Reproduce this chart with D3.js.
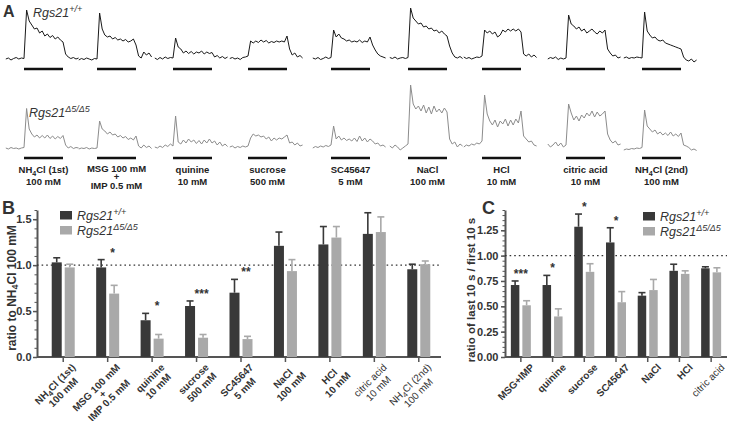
<!DOCTYPE html>
<html>
<head>
<meta charset="utf-8">
<script src="https://cdn.jsdelivr.net/npm/d3@7"></script>
<style>
body { margin: 0; background: #fff; }
svg { font-family: "Liberation Sans", Arial, Helvetica, sans-serif; }
</style>
</head>
<body>
<svg id="fig" width="729" height="421"></svg>
<script>
// ---- data ----
const stimuli = ["NH4Cl (1st)\n100 mM", "MSG 100 mM\n+\nIMP 0.5 mM", "quinine\n10 mM", "sucrose\n500 mM",
  "SC45647\n5 mM", "NaCl\n100 mM", "HCl\n10 mM", "citric acid\n10 mM", "NH4Cl (2nd)\n100 mM"];

// time (s) relative to stimulus onset, stimulus lasts 30 s
const traceTime = [-14,-12,-10,-8,-6,-4,-2,0,2,4,6,8,10,12,14,16,18,20,22,24,26,28,30,32,34,36,38,40,42];

// normalized calcium traces
const wtTraces = [
  [0.02,0.04,0.00,0.03,0.05,0.02,0.04, 0.03,1.00,0.78,0.70,0.62,0.64,0.54,0.58,0.48,0.52,0.45,0.49,0.42,0.46,0.40,0.36, 0.12,0.06,0.03,0.05,0.02,0.04],
  [0.00,0.03,0.01,0.04,0.02,0.00,0.03, 0.02,0.94,0.62,0.50,0.46,0.48,0.42,0.45,0.40,0.42,0.38,0.41,0.36,0.38,0.42,0.30, 0.08,0.04,0.16,0.10,0.14,0.06],
  [0.04,0.01,0.05,0.02,0.06,0.03,0.05, 0.04,0.44,0.26,0.22,0.14,0.18,0.13,0.17,0.12,0.16,0.14,0.18,0.12,0.16,0.13,0.15, 0.06,0.09,0.04,0.07,0.03,0.06],
  [0.03,0.05,0.02,0.04,0.01,0.05,0.06, 0.08,0.38,0.34,0.38,0.35,0.40,0.36,0.39,0.34,0.37,0.35,0.38,0.36,0.38,0.36,0.48, 0.22,0.10,0.14,0.06,0.09,0.04],
  [0.04,0.02,0.05,0.01,0.03,0.06,0.03, 0.05,0.60,0.46,0.52,0.44,0.42,0.38,0.40,0.36,0.38,0.36,0.40,0.35,0.38,0.36,0.46, 0.30,0.20,0.12,0.08,0.06,0.04],
  [0.05,0.03,0.06,0.02,0.04,0.05,0.03, 0.05,1.04,0.84,0.78,0.72,0.74,0.66,0.68,0.62,0.64,0.58,0.60,0.54,0.58,0.52,0.48, 0.28,0.14,0.06,0.04,0.07,0.03],
  [0.06,0.03,0.05,0.02,0.04,0.06,0.05, 0.08,0.60,0.54,0.58,0.52,0.56,0.46,0.50,0.60,0.56,0.62,0.58,0.62,0.58,0.62,0.56, 0.12,0.08,0.12,0.06,0.10,0.05],
  [0.02,0.05,0.03,0.06,0.01,0.04,0.02, 0.04,0.90,0.72,0.68,0.62,0.66,0.58,0.62,0.54,0.58,0.62,0.56,0.52,0.58,0.54,0.60, 0.22,0.14,0.08,0.10,0.04,0.06],
  [0.04,0.06,0.03,0.05,0.04,0.06,0.05, 0.04,0.96,0.58,0.50,0.44,0.46,0.40,0.38,0.40,0.34,0.32,0.30,0.28,0.26,0.24,0.22, 0.06,0.00,-0.02,0.02,-0.04,0.00]
];
const koTraces = [
  [0.02,0.00,0.03,0.01,0.02,0.00,0.02, 0.03,0.81,0.40,0.30,0.24,0.28,0.22,0.27,0.22,0.28,0.21,0.26,0.20,0.25,0.21,0.27, 0.08,0.02,0.05,0.01,0.03,0.02],
  [0.00,0.02,0.01,0.03,0.00,0.02,0.01, 0.02,0.56,0.40,0.36,0.30,0.34,0.28,0.30,0.24,0.27,0.22,0.25,0.19,0.22,0.18,0.26, 0.06,0.02,0.08,0.03,0.06,0.01],
  [0.04,0.02,0.06,0.03,0.08,0.05,0.10, 0.06,0.66,0.14,0.10,0.18,0.12,0.20,0.14,0.18,0.11,0.17,0.10,0.18,0.12,0.20,0.12, 0.16,0.08,0.14,0.06,0.10,0.05],
  [0.04,0.06,0.02,0.05,0.03,0.06,0.04, 0.06,0.22,0.30,0.26,0.28,0.24,0.26,0.20,0.24,0.16,0.22,0.18,0.22,0.20,0.24,0.28, 0.12,0.14,0.08,0.12,0.06,0.08],
  [0.02,0.05,0.03,0.06,0.04,0.07,0.05, 0.08,0.46,0.20,0.26,0.18,0.22,0.17,0.20,0.16,0.22,0.15,0.26,0.16,0.22,0.14,0.20, 0.16,0.10,0.12,0.06,0.08,0.04],
  [0.06,0.02,0.08,0.04,-0.02,0.02,0.06, 0.10,1.28,0.90,0.80,0.86,0.76,0.88,0.72,0.84,0.70,0.86,0.74,0.80,0.72,0.82,0.74, 0.20,0.10,0.14,0.04,0.10,0.06],
  [0.04,0.08,0.06,0.10,0.08,0.12,0.10, 0.16,1.08,0.70,0.56,0.48,0.58,0.44,0.56,0.50,0.60,0.46,0.58,0.48,0.60,0.52,0.76, 0.26,0.20,0.14,0.16,0.08,0.06],
  [0.10,0.04,0.08,0.14,0.06,0.12,0.04, 0.08,0.90,0.72,0.58,0.66,0.56,0.68,0.62,0.72,0.66,0.76,0.64,0.74,0.66,0.70,0.76, 0.30,0.18,0.12,0.16,0.08,0.10],
  [-0.02,0.00,-0.01,0.01,0.00,0.02,0.01, 0.03,0.78,0.46,0.40,0.34,0.38,0.30,0.34,0.28,0.32,0.27,0.34,0.26,0.30,0.25,0.32, 0.08,0.06,0.03,-0.02,0.00,-0.03]
];

// panel B: ratio to NH4Cl 100 mM (mean, SEM)
const bWt    = [1.03, 0.975, 0.40, 0.555, 0.70, 1.21, 1.225, 1.34, 0.955];
const bWtSem = [0.05, 0.085, 0.075, 0.055, 0.145, 0.15, 0.195, 0.23, 0.055];
const bKo    = [0.975, 0.69, 0.20, 0.21, 0.195, 0.935, 1.30, 1.36, 1.01];
const bKoSem = [0.035, 0.09, 0.045, 0.035, 0.03, 0.125, 0.12, 0.165, 0.035];
const bStars = ["", "*", "*", "***", "**", "", "", "", ""];
const bTicks = [0, 0.5, 1.0, 1.5];

// panel C: ratio of last 10 s / first 10 s
const cCategories = ["MSG+IMP", "quinine", "sucrose", "SC45647", "NaCl", "HCl", "citric acid"];
const cWt    = [0.71, 0.71, 1.285, 1.13, 0.605, 0.85, 0.875];
const cWtSem = [0.04, 0.095, 0.125, 0.145, 0.03, 0.065, 0.015];
const cKo    = [0.51, 0.40, 0.84, 0.54, 0.66, 0.82, 0.835];
const cKoSem = [0.045, 0.075, 0.08, 0.105, 0.105, 0.03, 0.045];
const cStars = ["***", "*", "*", "*", "", "", ""];
const cTicks = [0, 0.25, 0.5, 0.75, 1.0, 1.25];

// ---- drawing ----
const svg = d3.select("#fig");
const ink = "#333";
const axisColor = "#555";
const wtColor = "#393939", koColor = "#a9a9a9";

// text with NH4 subscript
function rich(text, str) {
  const parts = str.split("NH4");
  if (parts.length === 1) return text.text(str);
  if (parts[0]) text.append("tspan").text(parts[0]);
  text.append("tspan").text("NH");
  text.append("tspan").attr("dy", 2.5).attr("font-size", "0.75em").text("4");
  text.append("tspan").attr("dy", -2.5).text(parts[1]);
  return text;
}
function genotype(parent, x, y, sup) {
  const t = parent.append("text").attr("x", x).attr("y", y).attr("font-style", "italic")
    .attr("font-size", 12.5).attr("fill", ink);
  t.append("tspan").text("Rgs21");
  t.append("tspan").attr("dy", -5).attr("font-size", 9).text(sup);
  return t;
}
function panelLetter(x, y, s, size) {
  svg.append("text").attr("x", x).attr("y", y).attr("font-weight", "bold")
    .attr("font-size", size).attr("fill", ink).text(s);
}

// ---- panel A ----
const gA = svg.append("g");
const traceX0 = [24, 97, 173, 248, 331, 408, 482, 566, 642];
const rows = [
  {traces: wtTraces, base: 60, bar: 69, stroke: "#1a1a1a"},
  {traces: koTraces, base: 149, bar: 158, stroke: "#8c8c8c"}
];
rows.forEach(r => {
  const y = d3.scaleLinear().domain([0, 1]).range([r.base, r.base - 50]);
  r.traces.forEach((vals, i) => {
    const x = d3.scaleLinear().domain([0, 30]).range([traceX0[i], traceX0[i] + 39]);
    const line = d3.line().x((d, j) => x(traceTime[j])).y(d => y(d));
    gA.append("path").attr("d", line(vals)).attr("fill", "none")
      .attr("stroke", r.stroke).attr("stroke-width", 1).attr("stroke-linejoin", "round");
    gA.append("line").attr("x1", x(0)).attr("x2", x(30)).attr("y1", r.bar).attr("y2", r.bar)
      .attr("stroke", "#111").attr("stroke-width", 2.5);
  });
});
stimuli.forEach((s, i) => {
  const lines = s.split("\n");
  const ys = lines.length > 2 ? [172, 180, 188.5] : [173, 184.5];
  lines.forEach((l, k) => {
    rich(gA.append("text").attr("x", traceX0[i] + 19.5).attr("y", ys[k])
      .attr("text-anchor", "middle").attr("font-size", 9.5).attr("font-weight", "bold").attr("fill", "#222"), l);
  });
});
panelLetter(3, 17, "A", 16);
genotype(gA, 33, 17, "+/+");
genotype(gA, 29, 117, "\u03945/\u03945");

// ---- bar panels ----
function rotatedLabel(parent, x, y, lines, weight) {
  const g = parent.append("g").attr("transform", `translate(${x},${y}) rotate(-45)`)
    .attr("font-size", 10).attr("font-weight", weight).attr("fill", ink);
  const lh = lines.length > 2 ? 9 : 11.5;
  const texts = lines.map((s, k) => rich(g.append("text").attr("y", k * lh).attr("text-anchor", "middle"), s));
  const w = d3.max(texts, t => t.node().getComputedTextLength());
  texts.forEach(t => t.attr("x", -w / 2));
}

function styleAxis(g) {
  g.attr("font-family", null).attr("font-size", 11).attr("font-weight", "bold");
  g.select(".domain").attr("stroke", axisColor).attr("stroke-width", 2);
  g.selectAll(".tick line").attr("stroke", axisColor).attr("stroke-width", 1.5);
  g.selectAll(".tick text").attr("fill", ink);
}

function barPanel(o) {
  const g = svg.append("g");
  const x = d3.scaleBand().domain(o.cats).range(o.xRange);
  const y = d3.scaleLinear().domain(o.yDomain).range([357, o.yTop]);
  // minor ticks
  g.append("g").attr("transform", `translate(${o.axisX},0)`)
    .call(d3.axisLeft(y).tickValues(d3.range(0, o.yDomain[1] + 1e-9, o.minor)).tickSize(2.5).tickFormat(""))
    .call(a => { a.select(".domain").remove(); a.selectAll("line").attr("stroke", axisColor); });
  g.append("g").attr("transform", `translate(${o.axisX},0)`)
    .call(d3.axisLeft(y).tickValues(o.ticks).tickFormat(d3.format(o.fmt)).tickSize(4).tickSizeOuter(0).tickPadding(o.tickPad))
    .call(styleAxis);
  g.append("g").attr("transform", "translate(0,357)")
    .call(d3.axisBottom(x).tickSize(5).tickFormat(""))
    .call(styleAxis)
    .call(a => a.select(".domain").remove());
  g.append("line").attr("x1", o.axisX).attr("x2", o.xRange[1]).attr("y1", 357).attr("y2", 357)
    .attr("stroke", axisColor).attr("stroke-width", 2);
  // reference line at 1.0
  g.append("line").attr("x1", o.axisX).attr("x2", o.xRange[1]).attr("y1", y(1)).attr("y2", y(1))
    .attr("stroke", ink).attr("stroke-width", 1.3).attr("stroke-dasharray", "1.6,3");

  const series = [
    {vals: o.wt, sem: o.wtSem, color: wtColor, dx: o.wtDx},
    {vals: o.ko, sem: o.koSem, color: koColor, dx: o.koDx}
  ];
  series.forEach(s => {
    o.cats.forEach((c, i) => {
      const cx = x(c) + x.bandwidth() / 2 + s.dx;
      const mid = cx + o.bw / 2;
      g.append("line").attr("x1", mid).attr("x2", mid).attr("y1", y(s.vals[i])).attr("y2", y(s.vals[i] + s.sem[i]))
        .attr("stroke", s.color).attr("stroke-width", 1.6);
      g.append("line").attr("x1", mid - 3.5).attr("x2", mid + 3.5)
        .attr("y1", y(s.vals[i] + s.sem[i])).attr("y2", y(s.vals[i] + s.sem[i]))
        .attr("stroke", s.color).attr("stroke-width", 1.6);
      g.append("rect").attr("x", cx).attr("width", o.bw)
        .attr("y", y(s.vals[i])).attr("height", y(0) - y(s.vals[i])).attr("fill", s.color);
    });
  });
  o.cats.forEach((c, i) => {
    const cx = x(c) + x.bandwidth() / 2;
    if (o.stars[i]) {
      const top = y(Math.max(o.wt[i] + o.wtSem[i], o.ko[i] + o.koSem[i]));
      g.append("text").attr("x", cx + o.starDx).attr("y", top - 3).attr("text-anchor", "middle")
        .attr("font-size", 12).attr("font-weight", "bold").attr("fill", ink).text(o.stars[i]);
    }
    rotatedLabel(g, cx + o.labDx, 368, c.split("\n"), i >= o.lightFrom ? "normal" : "bold");
  });
  // y label
  rich(g.append("text").attr("transform", `translate(${o.labelX},${o.labelY}) rotate(-90)`)
    .attr("text-anchor", "middle").attr("font-size", o.labelSize).attr("font-weight", "bold").attr("fill", ink), o.label);
  // legend
  [[wtColor, "+/+", 0], [koColor, "\u03945/\u03945", 15]].forEach(([col, sup, dy]) => {
    g.append("rect").attr("x", o.legX).attr("y", o.legY + dy).attr("width", 12).attr("height", 8.5).attr("fill", col);
    genotype(g, o.legX + 17, o.legY + dy + 9, sup);
  });
}

barPanel({
  cats: stimuli, xRange: [41, 441], axisX: 37, yDomain: [0, 1.6], yTop: 210, ticks: bTicks, fmt: ".1f", minor: 0.1,
  tickPad: 1.5, labDx: 13,
  wt: bWt, wtSem: bWtSem, ko: bKo, koSem: bKoSem, stars: bStars, starDx: 5,
  bw: 10, wtDx: -11.5, koDx: 1.5, lightFrom: 7,
  label: "ratio to NH4Cl 100 mM", labelX: 15.5, labelY: 288, labelSize: 12,
  legX: 60, legY: 211
});
barPanel({
  cats: cCategories, xRange: [505, 727], axisX: 505, yDomain: [0, 1.45], yTop: 210, ticks: cTicks, fmt: ".2f", minor: 0.05,
  tickPad: 2.5, labDx: 14,
  wt: cWt, wtSem: cWtSem, ko: cKo, koSem: cKoSem, stars: cStars, starDx: 0,
  bw: 8.5, wtDx: -10, koDx: 1.5, lightFrom: 6,
  label: "ratio of last 10 s / first 10 s", labelX: 475, labelY: 290, labelSize: 11.5,
  legX: 643, legY: 212
});
panelLetter(2, 214, "B", 18);
panelLetter(482, 214, "C", 18);
</script>
</body>
</html>
